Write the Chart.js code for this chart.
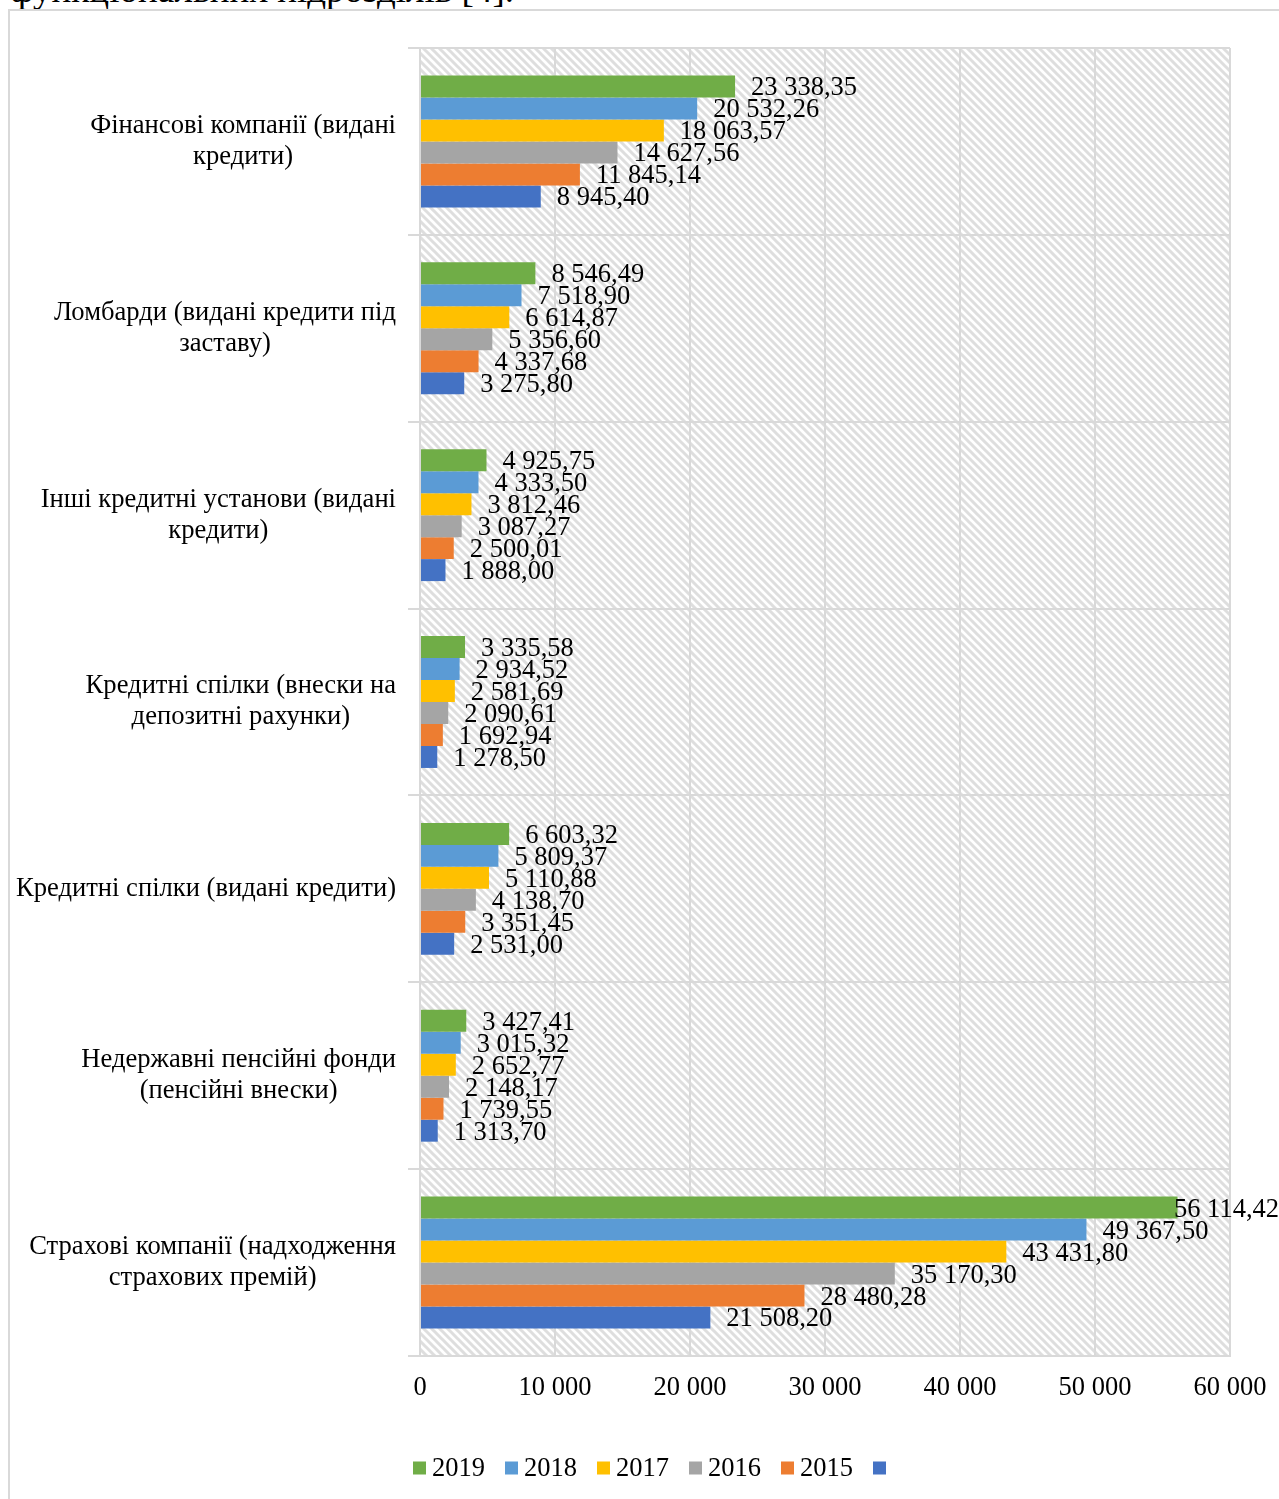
<!DOCTYPE html>
<html>
<head>
<meta charset="utf-8">
<script src="https://cdn.jsdelivr.net/npm/chart.js@4/dist/chart.umd.min.js"></script>
<style>
  body { margin: 0; background: #fff; width: 1279px; height: 1499px; overflow: hidden; position: relative; }
  #cut { position: absolute; left: 10px; top: -29px; font: 37px/37px "Liberation Serif", "Times New Roman", serif; color: #000; white-space: nowrap; }
  #frame { position: absolute; left: 8px; top: 9px; width: 1271px; height: 1490px; border-left: 2px solid #d9d9d9; border-top: 2px solid #d9d9d9; }
  #wrap { position: absolute; left: 10px; top: 11px; width: 1269px; height: 1488px; }
</style>
</head>
<body>
<div id="cut">функціональних підрозділів [4].</div>
<div id="frame"></div>
<div id="wrap"><canvas id="chart" width="1269" height="1488"></canvas></div>
<script>
// категорії (рядки підпису)
var categories = [
  ['Фінансові компанії (видані', 'кредити)'],
  ['Ломбарди (видані кредити під', 'заставу)'],
  ['Інші кредитні установи (видані', 'кредити)'],
  ['Кредитні спілки (внески на', 'депозитні рахунки)'],
  ['Кредитні спілки (видані кредити)'],
  ['Недержавні пенсійні фонди', '(пенсійні внески)'],
  ['Страхові компанії (надходження', 'страхових премій)']
];

var years = ['2019', '2018', '2017', '2016', '2015', ''];

var v2019 = [23338.35, 8546.49, 4925.75, 3335.58, 6603.32, 3427.41, 56114.42];
var v2018 = [20532.26, 7518.90, 4333.50, 2934.52, 5809.37, 3015.32, 49367.50];
var v2017 = [18063.57, 6614.87, 3812.46, 2581.69, 5110.88, 2652.77, 43431.80];
var v2016 = [14627.56, 5356.60, 3087.27, 2090.61, 4138.70, 2148.17, 35170.30];
var v2015 = [11845.14, 4337.68, 2500.01, 1692.94, 3351.45, 1739.55, 28480.28];
var v2014 = [8945.40, 3275.80, 1888.00, 1278.50, 2531.00, 1313.70, 21508.20];

var xTicks = [0, 10000, 20000, 30000, 40000, 50000, 60000];

var colors = ['#70ad47', '#5b9bd5', '#ffc000', '#a5a5a5', '#ed7d31', '#4472c4'];
var serif = '"Liberation Serif", "Times New Roman", serif';

function fmt(v, dec) {
  var parts = v.toFixed(dec).split('.');
  var s = parts[0].replace(/\B(?=(\d{3})+(?!\d))/g, ' ');
  return dec ? s + ',' + parts[1] : s;
}

// штрихування фону як в екселі
function hatch() {
  var c = document.createElement('canvas');
  c.width = 8; c.height = 8;
  var g = c.getContext('2d');
  g.fillStyle = '#ffffff';
  g.fillRect(0, 0, 8, 8);
  g.strokeStyle = '#dedede';
  g.lineWidth = 3;
  g.beginPath();
  g.moveTo(-2, -2); g.lineTo(10, 10);
  g.moveTo(-2, 6); g.lineTo(2, 10);
  g.moveTo(6, -2); g.lineTo(10, 2);
  g.stroke();
  return c;
}

var bgPlugin = {
  id: 'bg',
  beforeDraw: function(chart) {
    var a = chart.chartArea, ctx = chart.ctx;
    ctx.save();
    ctx.fillStyle = ctx.createPattern(hatch(), 'repeat');
    ctx.fillRect(a.left, a.top, a.right - a.left, a.bottom - a.top);
    ctx.restore();
  }
};

// підписи категорій: блок праворуч, рядки по центру
var catLabels = {
  id: 'catLabels',
  afterDraw: function(chart) {
    var ctx = chart.ctx, ys = chart.scales.y;
    var right = ys.right - 24;
    ctx.save();
    ctx.font = '26.6px ' + serif;
    ctx.fillStyle = '#000';
    ctx.textAlign = 'center';
    ctx.textBaseline = 'middle';
    categories.forEach(function(lines, i) {
      var w = 0;
      lines.forEach(function(l) { w = Math.max(w, ctx.measureText(l).width); });
      var y0 = ys.getPixelForValue(i) - (lines.length - 1) * 31 / 2;
      lines.forEach(function(l, k) {
        ctx.fillText(l, right - w / 2, y0 + k * 31);
      });
    });
    ctx.restore();
  }
};

// значення біля кінця стовпчиків
var valLabels = {
  id: 'valLabels',
  afterDatasetsDraw: function(chart) {
    var ctx = chart.ctx;
    ctx.save();
    ctx.font = '26.5px ' + serif;
    ctx.fillStyle = '#000';
    ctx.textAlign = 'left';
    ctx.textBaseline = 'middle';
    chart.data.datasets.forEach(function(ds, di) {
      chart.getDatasetMeta(di).data.forEach(function(bar, i) {
        var t = fmt(ds.data[i], 2);
        var x = bar.x + 16;
        var w = ctx.measureText(t).width;
        if (x + w > chart.width) x = chart.width - w;
        ctx.fillText(t, x, bar.y + 2);
      });
    });
    ctx.restore();
  }
};

// легенда знизу (квадрат + підпис, маленький відступ як в екселі)
var legendBox = {
  id: 'legendBox',
  afterDraw: function(chart) {
    var ctx = chart.ctx, ds = chart.data.datasets;
    ctx.save();
    ctx.font = '26.5px ' + serif;
    ctx.textBaseline = 'middle';
    ctx.textAlign = 'left';
    var widths = ds.map(function(d) { return 13 + 6 + ctx.measureText(d.label).width; });
    var total = widths.reduce(function(a, b) { return a + b; }, 0) + 20 * (ds.length - 1);
    var x = chart.width / 2 + 8 - total / 2;
    var y = 1457;
    ds.forEach(function(d, i) {
      ctx.fillStyle = d.backgroundColor;
      ctx.fillRect(x, y - 6.5, 13, 13);
      ctx.fillStyle = '#000';
      ctx.fillText(d.label, x + 19, y + 1);
      x += widths[i] + 20;
    });
    ctx.restore();
  }
};

var all = [v2019, v2018, v2017, v2016, v2015, v2014];
var datasets = all.map(function(d, i) {
  return {
    label: years[i],
    data: d,
    backgroundColor: colors[i],
    borderWidth: 0,
    categoryPercentage: 0.706,
    barPercentage: 1
  };
});

var ctx = document.getElementById('chart');
var myChart = new Chart(ctx, {
  type: 'bar',
  data: {
    labels: categories.map(function(c) { return c.join(' '); }),
    datasets: datasets
  },
  options: {
    indexAxis: 'y',
    responsive: false,
    animation: false,
    layout: { padding: { left: 0, right: 49, top: 37, bottom: 53 } },
    scales: {
      x: {
        min: 0,
        max: 60000,
        afterBuildTicks: function(s) { s.ticks = xTicks.map(function(v) { return { value: v }; }); },
        afterFit: function(s) { s.height = 90; s.paddingLeft = 0; s.paddingRight = 0; },
        grid: { color: '#d9d9d9', lineWidth: 2, drawTicks: false },
        border: { color: '#d9d9d9', width: 2 },
        ticks: {
          padding: 16,
          color: '#000',
          font: { family: serif, size: 26.5 },
          callback: function(v) { return fmt(v, 0); }
        }
      },
      y: {
        afterFit: function(s) { s.width = 410; },
        grid: { color: '#d9d9d9', lineWidth: 2, tickLength: 12 },
        border: { color: '#d9d9d9', width: 2 },
        ticks: { display: false }
      }
    },
    plugins: {
      legend: { display: false },
      tooltip: { enabled: false }
    }
  },
  plugins: [bgPlugin, catLabels, valLabels, legendBox]
});
</script>
</body>
</html>
